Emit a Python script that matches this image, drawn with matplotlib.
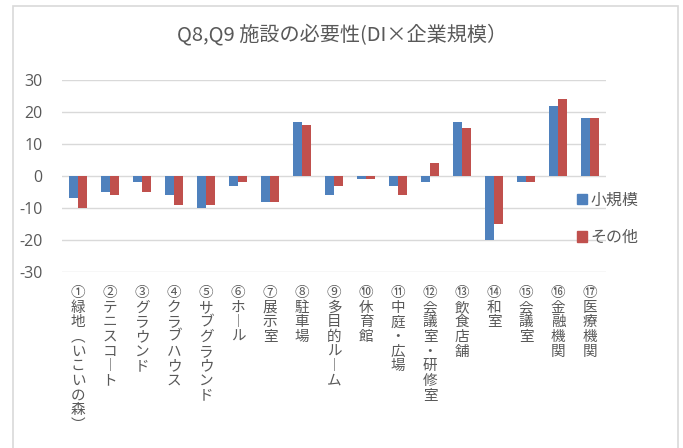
import numpy as np
import matplotlib
matplotlib.use("Agg")
import matplotlib.pyplot as plt
from matplotlib.patches import Rectangle, Patch
from matplotlib.transforms import blended_transform_factory

plt.rcParams['font.family'] = ['Noto Sans CJK JP', 'DejaVu Sans']

title = "Q8,Q9 施設の必要性(DI×企業規模）"
categories = ["①緑地（いこいの森）", "②テニスコート", "③グラウンド", "④クラブハウス",
              "⑤サブグラウンド", "⑥ホール", "⑦展示室", "⑧駐車場", "⑨多目的ルーム",
              "⑩休育館", "⑪中庭・広場", "⑫会議室・研修室", "⑬飲食店舗", "⑭和室",
              "⑮会議室", "⑯金融機関", "⑰医療機関"]
small = [-7, -5, -2, -6, -10, -3, -8, 17, -6, -1, -3, -2, 17, -20, -2, 22, 18]
other = [-10, -6, -5, -9, -9, -2, -8, 16, -3, -1, -6, 4, 15, -15, -2, 24, 18]
series_names = ["小規模", "その他"]
yticks = [-30, -20, -10, 0, 10, 20, 30]

BLUE = "#4F81BD"
RED = "#C0504D"
GRAY = "#595959"
GRID = "#D9D9D9"

W, H = 683, 448
fig = plt.figure(figsize=(W / 100, H / 100), dpi=100)

# chart border
fig.patches.append(Rectangle((13 / W, -0.05), (678 - 13) / W, 1 - 6 / H + 0.05,
                             transform=fig.transFigure, fill=False,
                             edgecolor=GRID, lw=1.2))

ax = fig.add_axes([62 / W, 1 - 272 / H, (606 - 62) / W, (272 - 80) / H])
x = np.arange(len(categories))
bw = 0.28
ax.bar(x - bw / 2, small, bw, color=BLUE, zorder=3)
ax.bar(x + bw / 2, other, bw, color=RED, zorder=3)

ax.set_xlim(-0.5, len(categories) - 0.5)
ax.set_ylim(-30, 30)
ax.set_yticks(yticks)
ax.set_yticklabels([str(v) for v in yticks], fontsize=11.5, color=GRAY,
                   family=['Open Sans', 'DejaVu Sans'])
ax.set_xticks([])
ax.tick_params(axis='y', length=0, pad=14)
ax.grid(axis='y', color=GRID, lw=1, zorder=0)
for s in ax.spines.values():
    s.set_visible(False)

# vertical (tategaki) category labels
vert_map = {"ー": "︱", "（": "︵", "）": "︶"}
trans = blended_transform_factory(ax.transData, fig.transFigure)
for i, lab in enumerate(categories):
    v = "\n".join(vert_map.get(c, c) for c in lab)
    ax.text(i, 1 - 286 / H, v, transform=trans, ha='center', va='top',
            fontsize=10.5, color=GRAY, linespacing=1.06)

fig.text(342 / W, 1 - 35 / H, title, ha='center', va='center',
         fontsize=14.5, color=GRAY)

handles = [Patch(color=BLUE), Patch(color=RED)]
fig.legend(handles, series_names, loc='upper left',
           bbox_to_anchor=(563 / W, 1 - 177 / H), frameon=False,
           fontsize=11.5, labelcolor=GRAY, handlelength=0.6, handleheight=0.6,
           handletextpad=0.2, labelspacing=1.3)

fig.savefig("out.png", dpi=100)
